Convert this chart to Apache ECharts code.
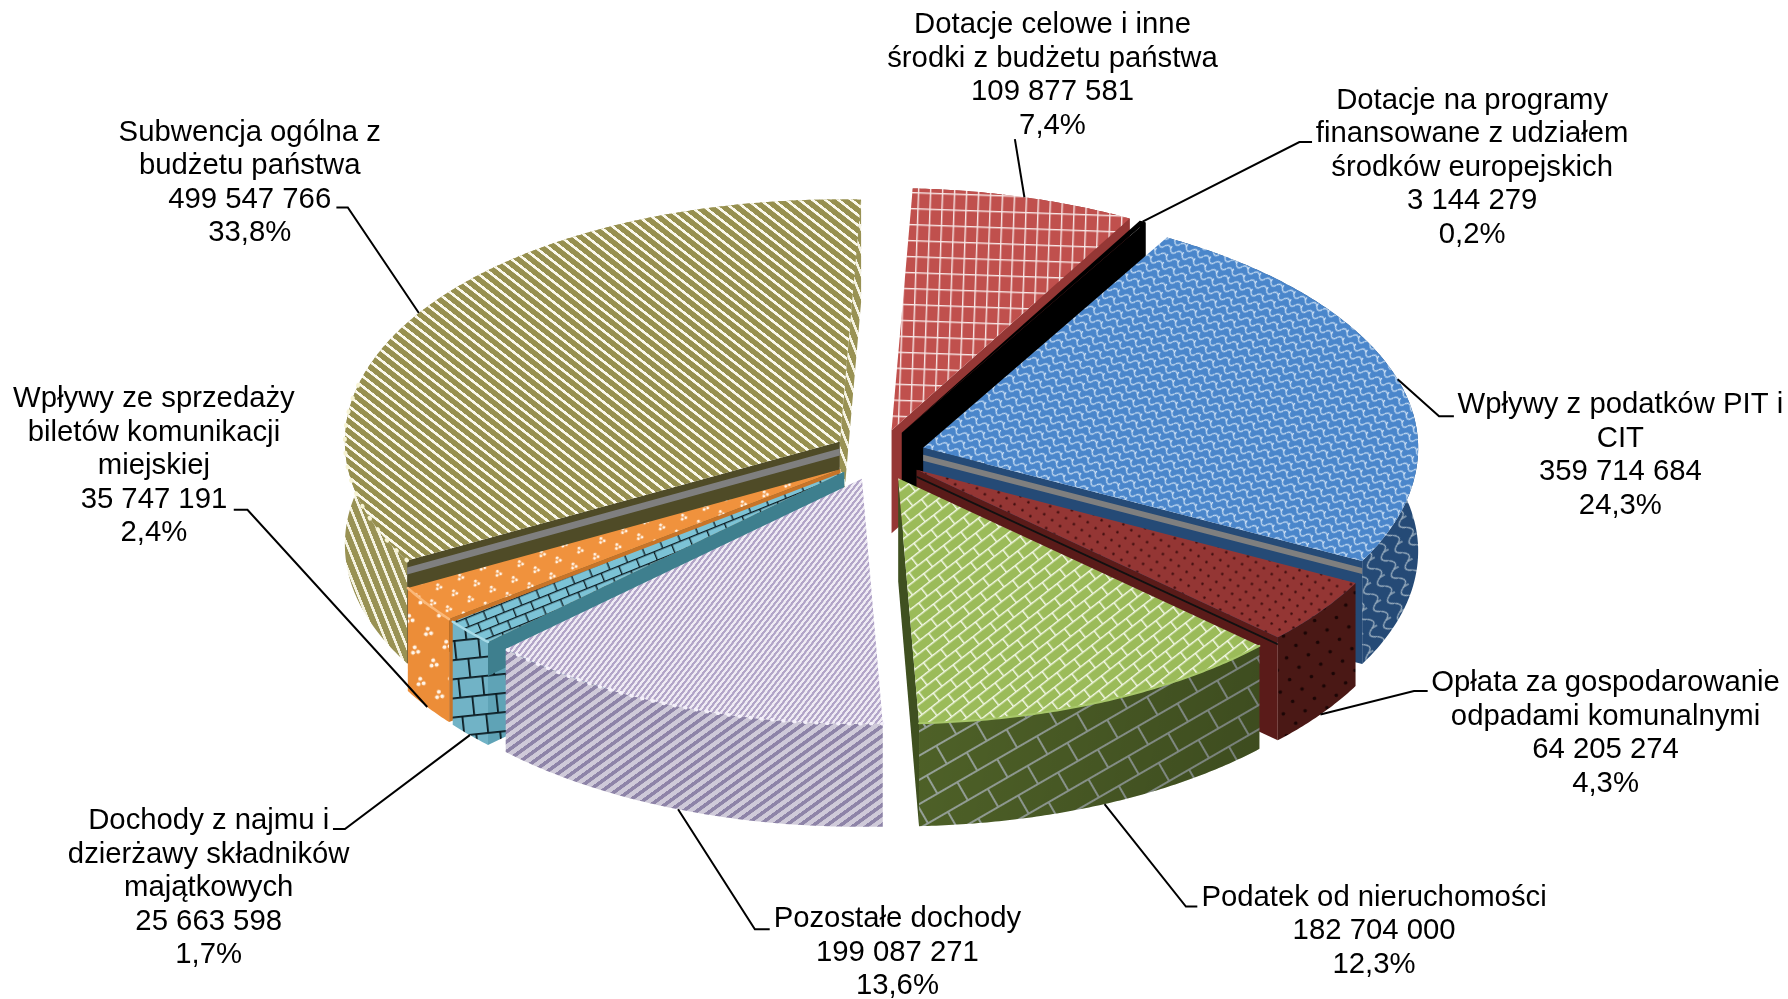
<!DOCTYPE html>
<html><head><meta charset="utf-8">
<style>html,body{margin:0;padding:0;background:#fff}#c{width:1788px;height:999px}</style>
<script src="https://cdn.jsdelivr.net/npm/echarts@6/dist/echarts.min.js"></script>
</head><body><div id="c"></div>
<script>
// ---- data ----
const categories = [
  'Dotacje celowe i inne\nśrodki z budżetu państwa',
  'Dotacje na programy\nfinansowane z udziałem\nśrodków europejskich',
  'Wpływy z podatków PIT i\nCIT',
  'Opłata za gospodarowanie\nodpadami komunalnymi',
  'Podatek od nieruchomości',
  'Pozostałe dochody',
  'Dochody z najmu i\ndzierżawy składników\nmajątkowych',
  'Wpływy ze sprzedaży\nbiletów komunikacji\nmiejskiej',
  'Subwencja ogólna z\nbudżetu państwa'
];
const values = [109877581, 3144279, 359714684, 64205274, 182704000, 199087271, 25663598, 35747191, 499547766];
const percentLabels = ['7,4%','0,2%','24,3%','4,3%','12,3%','13,6%','1,7%','2,4%','33,8%'];

// ---- layout (px in the 1788x999 page) ----
const K = 1788/1568;
const CX=879, CY=455, RX=495, RY=245, EX=46, EY=25.7, WALL=103, START_DEG=2.5;
const LH=33.5, FS=29.3;
// label centre x, first-line centre y, leader elbow points (in shrunk-preview units, scaled by K)
const labelAnchors = [
  {x:923, y:22.2,  elbow:[[890,122]]},
  {x:1291,y:88.2,  elbow:[[1139.5,124.6],[1150.6,124.6]]},
  {x:1421,y:355.2, elbow:[[1262,365],[1275,365]]},
  {x:1408,y:599.2, elbow:[[1240,606],[1252,606]]},
  {x:1205,y:787.2, elbow:[[1040,795],[1050,795]]},
  {x:787, y:806.2, elbow:[[662,815],[675,815]]},
  {x:183, y:720.2, elbow:[[302.5,727],[292,727]]},
  {x:135, y:350.2, elbow:[[217,447],[205,447]]},
  {x:219, y:116.2, elbow:[[305,182],[295,182]]}
];

// ---- pattern helpers ----
function tile(w,h,bg,draw){
  const c=document.createElement('canvas');c.width=w;c.height=h;
  const g=c.getContext('2d');g.fillStyle=bg;g.fillRect(0,0,w,h);draw(g,w,h);return c;
}
function pat(c,deg,s){return {image:c,repeat:'repeat',rotation:deg*Math.PI/180,scaleX:s||1,scaleY:s||1};}
function stripes(p,wh,bg,fg,deg){
  return pat(tile(4,Math.round(p*4),bg,(g,w,h)=>{g.fillStyle=fg;g.fillRect(0,0,w,wh*4);}),deg,0.25);
}
function grid(w,h,lw,bg,fg,deg,s){
  return pat(tile(w,h,bg,g=>{g.fillStyle=fg;g.fillRect(0,0,w,lw);g.fillRect(0,0,lw,h);}),deg,s);
}
function bricks(w,h,lw,bg,fg,deg,s){
  return pat(tile(w,h*2,bg,g=>{g.fillStyle=fg;
    g.fillRect(0,0,w,lw);g.fillRect(0,h,w,lw);
    g.fillRect(0,0,lw,h);g.fillRect(w/2,h,lw,h);}),deg,s);
}
function dots(w,r,bg,fg,deg,s){
  return pat(tile(w,w,bg,g=>{g.fillStyle=fg;
    [[w/4,w/4],[3*w/4,3*w/4]].forEach(p=>{g.beginPath();g.arc(p[0],p[1],r,0,7);g.fill();});}),deg,s);
}
function triDots(w,r,bg,fg,deg,s){
  return pat(tile(w,w,bg,g=>{g.fillStyle=fg;
    [[w/4,w/4],[3*w/4,3*w/4]].forEach(p=>{
      [[-r*1.3,r*1.2],[r*1.3,r*1.2],[0,-r*1.2]].forEach(d=>{g.beginPath();g.arc(p[0]+d[0],p[1]+d[1],r,0,7);g.fill();});
    });}),deg,s);
}
function waves(w,h,lw,bg,fg,deg,s){
  return pat(tile(w,h,bg,g=>{g.strokeStyle=fg;g.lineWidth=lw;
    g.beginPath();g.moveTo(0,h*0.35);
    g.bezierCurveTo(w*0.2,h*0.0,w*0.35,h*0.0,w*0.5,h*0.35);
    g.bezierCurveTo(w*0.65,h*0.8,w*0.85,h*0.8,w,h*0.35);g.stroke();
    g.beginPath();g.moveTo(w*0.5,h*0.35);g.lineTo(w*0.5,h*0.0);g.stroke();
    }),deg,s);
}
const shadeToRight={type:'linear',x:0,y:0,x2:1,y2:0.4,colorStops:[{offset:0,color:'rgba(0,0,0,0)'},{offset:1,color:'rgba(0,0,0,0.22)'}]};

// ---- per-slice styles ----
const sliceStyles = [
 {top:grid(12,16,1.4,'#c0504d','#f7e6e5',2,1), arc:grid(12,16,1.4,'#953735','#e8d0cf',2,1), cut:'#953735', cutBack:'#953735'},
 {top:'#000000', arc:'#000000', cut:'#000000', cutBack:'#000000'},
 {top:waves(13,9,1.2,'#4a86cb','#cfe2f5',28,1), arc:waves(20,16,1.3,'#254a76','#9fb2c2',60,1), cut:'#254a76', bands:[[7,13,'#7f7f7f']]},
 {top:dots(14,1.2,'#943634','#3a0c0c',-8,1), arc:dots(22,1.8,'#4a1815','#1a0505',-8,1), cut:'#5a1b19', bands:[[6,8,'#111111']]},
 {top:bricks(22,10,1.5,'#9bbb59','#f3f8e6',-38,1), arc:bricks(46,21,2,'#4f6228','#98a39a',-30,1), cut:'#3f5020', cutBack:'#4f6228', rim:{color:'#a8c86a',width:2}, shade:shadeToRight},
 {top:stripes(4.4,2.2,'#efebf4','#b2a5c8',-52), arc:stripes(8,3.6,'#cfcad9','#8e84a8',-36), cut:'#8e84a8', cutBack:'#b2a5c8', rim:{color:'#f4f0fa',width:3.5,dash:[1,10]}},
 {top:bricks(19,9,1.3,'#7cc3d6','#0b1a20',-22,1), arc:bricks(24,19,1.8,'#71b3c6','#0b1a20',-6,1), cut:bricks(24,19,1.8,'#5fa3b6','#0b1a20',-6,1), bands:[[0,34,'#3e7f8e']], rim:{color:'#a8dbe8',width:2.5}},
 {top:triDots(24,1.5,'#f0923d','#fff5ea',-24,1), arc:triDots(32,2,'#ec8d38','#fff5ea',-10,1), cut:'#c87428', rim:{color:'#fbb878',width:2.5}},
 {top:stripes(8,2.6,'#97904f','#fbf9ec',38), arc:stripes(8.6,2.6,'#999254','#f5f3e2',68), cut:'#4f4b27', bands:[[7,14,'#7f7f7f']], rim:{color:'#f7f4d6',width:4,dash:[1,13],toDeg:285}}
];

// ---- geometry from values ----
const total = values.reduce((a,b)=>a+b,0);
const rad = d=>d*Math.PI/180;
const fmt = v=>String(v).replace(/\B(?=(\d{3})+$)/g,' ');
let acc=0;
const slices = values.map(v=>{
  const a1=START_DEG+acc/total*360; acc+=v; const a2=START_DEG+acc/total*360;
  const mid=(a1+a2)/2;
  return {a1,a2,mid,ax:CX+EX*Math.sin(rad(mid)),ay:CY-EY*Math.cos(rad(mid))};
});
const order = slices.map((s,i)=>i).sort((p,q)=>Math.cos(rad(slices[q].mid))-Math.cos(rad(slices[p].mid)));
const rankOf = []; order.forEach((i,r)=>rankOf[i]=r);
// the far rim is very slightly foreshortened in the reference
const onRim=(s,d)=>{
  const c=Math.cos(rad(d)),sn=Math.sin(rad(d));
  const far=c>0?c*c:0;
  return [s.ax+RX*sn*(sn>0?1-0.02*far:1), s.ay-RY*c*(1-0.012*far)];
};
function arcPoints(s,a,b){
  const pts=[];const n=Math.max(2,Math.ceil(b-a)*2);
  for(let k=0;k<=n;k++)pts.push(onRim(s,a+(b-a)*k/n));
  return pts;
}

function renderSlice(params,api){
  const i=params.dataIndex,s=slices[i],st=sliceStyles[i],base=10+rankOf[i]*10;
  const arc=arcPoints(s,s.a1,s.a2);const n=arc.length-1;
  const down=(p,d)=>[p[0],p[1]+d];
  const apex=[s.ax,s.ay];
  const kids=[];
  const poly=(pts,fill,z)=>kids.push({type:'polygon',z2:z,shape:{points:pts},style:{fill:fill}});
  const wallPts=arc.concat(arc.slice().reverse().map(p=>down(p,WALL)));
  poly(wallPts,st.arc,base);
  if(st.shade)poly(wallPts,st.shade,base+0.5);
  // a cut wall shows only on the side where the drop leaves the slice's top surface
  [[s.a1,arc[0],Math.sin(rad(s.a1))<0],[s.a2,arc[n],Math.sin(rad(s.a2))>0]].forEach(e=>{
    if(!e[2])return;
    const front=Math.cos(rad(e[0]))<0;
    poly([apex,e[1],down(e[1],WALL),down(apex,WALL)],front?st.cut:(st.cutBack||st.arc),base+1);
    if(front&&st.bands)st.bands.forEach(b=>poly([down(apex,b[0]),down(e[1],b[0]),down(e[1],b[1]),down(apex,b[1])],b[2],base+2));
  });
  poly([apex].concat(arc),st.top,base+5);
  if(st.rim){
    const rimPts=st.rim.toDeg?arcPoints(s,s.a1,st.rim.toDeg):arc;
    kids.push({type:'polyline',z2:base+6,shape:{points:rimPts},style:{fill:'none',stroke:st.rim.color,lineWidth:st.rim.width,lineDash:st.rim.dash||null,lineCap:'round'}});
  }

  // leader + label
  const l=labelAnchors[i];
  const tip=onRim(s,s.mid);
  const end=Math.cos(rad(s.mid))>0?tip:down(tip,WALL);
  const pts=[end].concat(l.elbow.map(p=>[p[0]*K,p[1]*K]));
  kids.push({type:'polyline',z2:500,shape:{points:pts},style:{fill:'none',stroke:'#000',lineWidth:2}});
  kids.push({type:'text',z2:501,style:{
    text:categories[i]+'\n'+fmt(api.value(0))+'\n'+percentLabels[i],
    x:l.x*K,y:l.y*K-LH/2,align:'center',verticalAlign:'top',
    fontFamily:'Liberation Sans',fontSize:FS,lineHeight:LH,fill:'#000'}});
  return {type:'group',children:kids};
}

const chart=echarts.init(document.getElementById('c'),null,{renderer:'canvas'});
chart.setOption({
  backgroundColor:'#fff',animation:false,
  series:[{type:'custom',coordinateSystem:'none',silent:true,clip:false,
    data:values.map(v=>[v]),renderItem:renderSlice}]
});
</script></body></html>
